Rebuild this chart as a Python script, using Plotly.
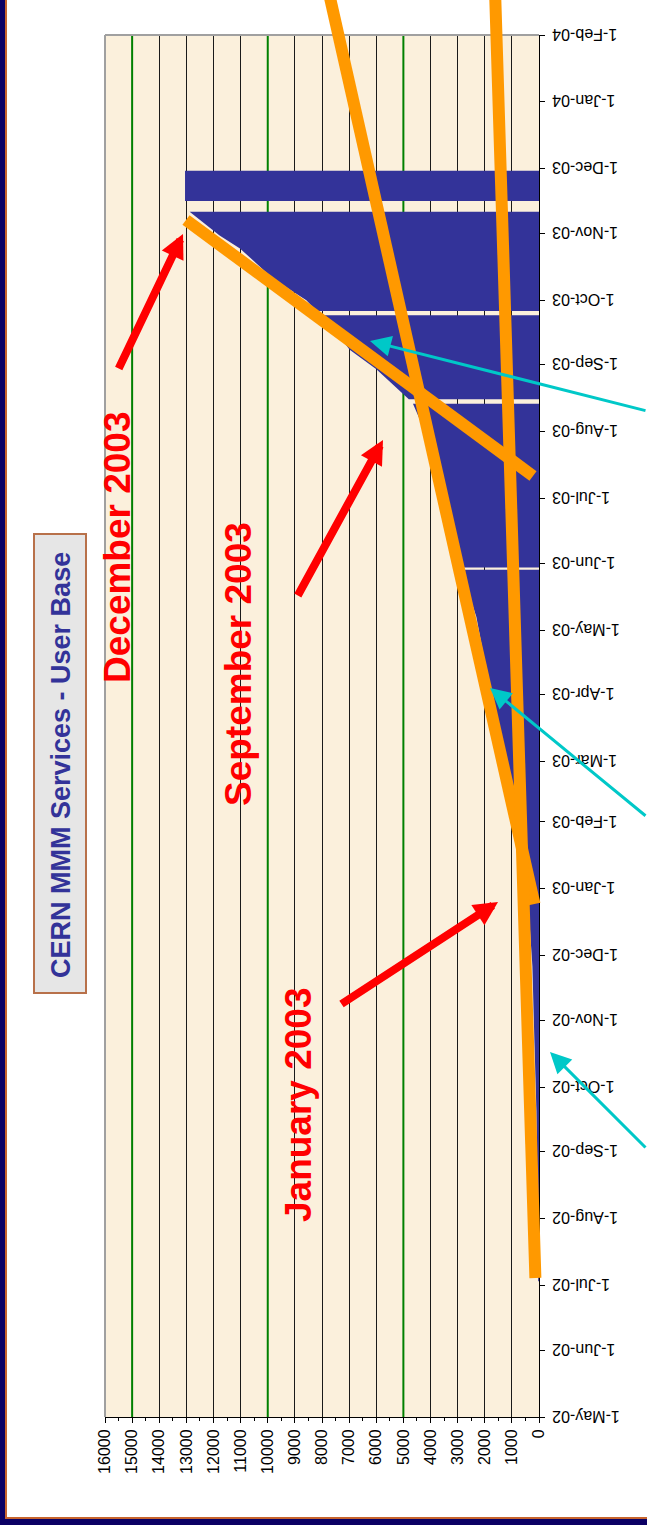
import plotly.graph_objects as go

# ---- Cumulative user base, read per period (missing days split the periods) ----
period_1_dates = ["2002-07-03", "2002-07-17", "2002-08-15", "2002-09-20", "2002-10-29",
                  "2002-11-26", "2002-12-08", "2002-12-22", "2003-01-01", "2003-01-10",
                  "2003-02-01", "2003-03-06", "2003-04-04", "2003-05-07", "2003-05-19",
                  "2003-05-29"]
period_1_users = [30, 37, 60, 96, 184, 243, 306, 369, 430, 560, 850, 1420, 1818, 2308, 2618, 2800]

period_2_dates = ["2003-05-30", "2003-06-13", "2003-07-11", "2003-08-01", "2003-08-14"]
period_2_users = [2830, 3046, 3850, 4200, 4646]

period_3_dates = ["2003-08-16", "2003-08-30", "2003-09-08", "2003-09-24"]
period_3_users = [4800, 5996, 6980, 7965]

period_4_dates = ["2003-09-26", "2003-10-01", "2003-10-11", "2003-10-21", "2003-10-25",
                  "2003-10-31", "2003-11-11"]
period_4_users = [8200, 8577, 9800, 10667, 11025, 11775, 12880]

period_5_dates = ["2003-11-16", "2003-11-30"]
period_5_users = [13050, 13050]

periods = [
    (period_1_dates, period_1_users),
    (period_2_dates, period_2_users),
    (period_3_dates, period_3_users),
    (period_4_dates, period_4_users),
    (period_5_dates, period_5_users),
]

date_range = ["2002-05-01", "2004-02-01"]
user_range = [16000, 0]
highlight_levels = [5000, 10000, 15000]

title_text = "CERN MMM Services - User Base"
callouts = ["December 2003", "September 2003", "January 2003"]

# ---- page geometry (pixels) ----
W, H = 647, 1525
L, R, T, B = 105, 539, 35, 1417


def P(x, y):
    """pixel position -> paper coordinates"""
    return (x - L) / (R - L), (B - y) / (B - T)


BLUE = "#333399"
ORANGE = "#FF9900"
RED = "#FF0000"
CYAN = "#00C8C8"
GREEN = "#008000"
FONT = "Liberation Sans"

fig = go.Figure()

# green emphasis grid lines, drawn first so the user-base area covers them
for v in highlight_levels:
    fig.add_trace(go.Scatter(
        x=[v, v], y=date_range, mode="lines",
        line=dict(color=GREEN, width=2), hoverinfo="skip", showlegend=False,
    ))

for d, u in periods:
    fig.add_trace(go.Scatter(
        x=u, y=d, mode="lines", fill="tozerox",
        fillcolor=BLUE, line=dict(width=0, color=BLUE),
        hoverinfo="skip", showlegend=False,
    ))

shapes = []

# plot-area border (left / top)
for (x0, y0, x1, y1) in [(L, T, L, B), (L, T, R, T)]:
    a, b = P(x0, y0)
    c, d = P(x1, y1)
    shapes.append(dict(type="line", xref="paper", yref="paper", x0=a, y0=b, x1=c, y1=d,
                       line=dict(color="#A0A0A0", width=2)))

# hand-drawn growth trend strokes
for (x0, y0, x1, y1) in [(326, -20, 534.5, 904), (494.7, -20, 535.4, 1278), (186, 220, 533, 476)]:
    a, b = P(x0, y0)
    c, d = P(x1, y1)
    shapes.append(dict(type="line", xref="paper", yref="paper", x0=a, y0=b, x1=c, y1=d,
                       line=dict(color=ORANGE, width=12)))

# title box
a, b = P(34, 993)
c, d = P(86, 534)
shapes.append(dict(type="rect", xref="paper", yref="paper", x0=a, y0=b, x1=c, y1=d,
                   fillcolor="#E6E6E6", line=dict(color="#B8714A", width=2)))

# slide frame: navy edge with copper rule (left and bottom)
frame = [((0, 0, 6, H), "#0B0064"), ((5, 0, 7, 1519), "#C8642D"),
         ((0, 1519, W, H), "#0B0064"), ((5, 1517, W, 1519), "#C8642D")]
for (x0, y0, x1, y1), col in frame:
    a, b = P(x0, y1)
    c, d = P(x1, y0)
    shapes.append(dict(type="rect", xref="paper", yref="paper", x0=a, y0=b, x1=c, y1=d,
                       fillcolor=col, line=dict(width=0)))

annotations = []

tx, ty = P(61, 765)
annotations.append(dict(xref="paper", yref="paper", x=tx, y=ty, text="<b>" + title_text + "</b>",
                        textangle=-90, showarrow=False, xanchor="center", yanchor="middle",
                        font=dict(family=FONT, size=27, color=BLUE)))

for txt, (cx, cy) in zip(callouts, [(117, 547), (239, 664), (298, 1105)]):
    ax_, ay_ = P(cx, cy)
    annotations.append(dict(xref="paper", yref="paper", x=ax_, y=ay_, text="<b>" + txt + "</b>",
                            textangle=-90, showarrow=False, xanchor="center", yanchor="middle",
                            font=dict(family=FONT, size=37, color=RED)))

# red pointer arrows (tip, tail)
for (hx, hy), (tx_, ty_) in [((183, 234), (118, 370)), ((383, 440), (297, 597)), ((498, 902), (340, 1005))]:
    px_, py_ = P(hx, hy)
    annotations.append(dict(xref="paper", yref="paper", x=px_, y=py_, ax=tx_ - hx, ay=ty_ - hy,
                            text="", showarrow=True, arrowhead=2, arrowsize=0.6, arrowwidth=8,
                            arrowcolor=RED))

# cyan pointer arrows (tip, tail)
for (hx, hy), (tx_, ty_) in [((370, 341), (700, 411)), ((490, 688), (700, 817)), ((550, 1052), (700, 1149))]:
    px_, py_ = P(hx, hy)
    annotations.append(dict(xref="paper", yref="paper", x=px_, y=py_, ax=tx_ - hx, ay=ty_ - hy,
                            text="", showarrow=True, arrowhead=2, arrowsize=1.4, arrowwidth=3,
                            arrowcolor=CYAN))

fig.update_layout(
    width=W, height=H,
    margin=dict(l=L, r=W - R, t=T, b=H - B, pad=0),
    paper_bgcolor="white",
    plot_bgcolor="#FBF0DC",
    showlegend=False,
    shapes=shapes,
    annotations=annotations,
    xaxis=dict(
        range=user_range, dtick=1000, tick0=0, tickformat="d",
        tickangle=-90, tickfont=dict(family=FONT, size=16, color="black"),
        showgrid=True, gridcolor="#1A1A1A", gridwidth=1, zeroline=False,
        showline=True, linecolor="black", linewidth=1,
        ticks="outside", ticklen=5, tickcolor="black",
        minor=dict(dtick=500, ticks="outside", ticklen=3, tickcolor="black", showgrid=False),
        fixedrange=True,
    ),
    yaxis=dict(
        type="date", range=date_range, dtick="M1", tick0="2002-05-01",
        tickformat="%-d-%b-%y", side="right", tickangle=180,
        ticklabelposition="inside", ticklabelstandoff=-13, ticklabelshift=4,
        ticklabeloverflow="allow",
        tickfont=dict(family=FONT, size=16, color="black"),
        showgrid=False, zeroline=False,
        showline=True, linecolor="black", linewidth=1,
        ticks="outside", ticklen=5, tickcolor="black",
        fixedrange=True,
    ),
)

fig.write_html("out.html")
